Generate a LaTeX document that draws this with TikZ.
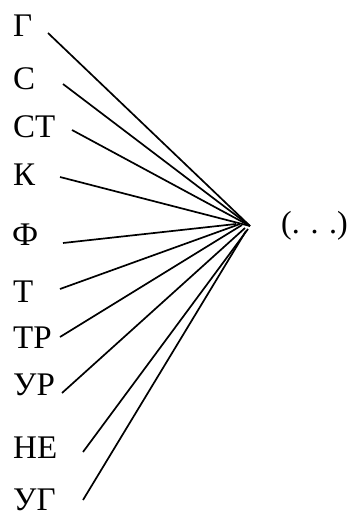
\documentclass[tikz,border=0pt]{standalone}
\usepackage{fontspec}
\setmainfont{Liberation Serif}
\usetikzlibrary{positioning}

\begin{document}
\begin{tikzpicture}[x=1pt,y=1pt,
  lbl/.style={anchor=base west,inner sep=0pt,font=\fontsize{33}{33}\selectfont},
  ray/.style={line width=1.7pt}]
\useasboundingbox (0,0) rectangle (352,-516);
% labels
\node (g) at (13,-37) [lbl] {Г};
\node (s) at (13,-90) [lbl] {С};
\node (st) at (13,-137) [lbl] {СТ};
\node (k) at (13,-185) [lbl] {К};
\node (f) at (12,-245) [lbl] {Ф};
\node (t) at (13,-302) [lbl] {Т};
\node (tr) at (13,-348) [lbl] {ТР};
\node (ur) at (13,-395) [lbl] {УР};
\node (ne) at (13,-458) [lbl] {НЕ};
\node (ug) at (13,-510) [lbl] {УГ};
\node (rest) at (281,-233) [lbl,font=\fontsize{32}{32}\selectfont] {(. . .)};
% line ends
\coordinate (hub) at (250,-226);
\coordinate (g-a) at (48,-33);
\coordinate (s-a) at (63,-84);
\coordinate (st-a) at (72,-130);
\coordinate (k-a) at (60,-177);
\coordinate (f-a) at (63,-243);
\coordinate (f-b) at (236,-224);
\coordinate (t-a) at (60,-289);
\coordinate (t-b) at (240,-224);
\coordinate (tr-a) at (60,-337);
\coordinate (tr-b) at (242,-225);
\coordinate (ur-a) at (62,-393);
\coordinate (ur-b) at (245,-228);
\coordinate (ne-a) at (83,-452);
\coordinate (ne-b) at (248,-229);
\coordinate (ug-a) at (83,-500);
\coordinate (ug-b) at (246,-231);
% rays
\draw [ray] (g-a) -- (hub);
\draw [ray] (s-a) -- (hub);
\draw [ray] (st-a) -- (hub);
\draw [ray] (k-a) -- (hub);
\draw [ray] (f-a) -- (f-b);
\draw [ray] (t-a) -- (t-b);
\draw [ray] (tr-a) -- (tr-b);
\draw [ray] (ur-a) -- (ur-b);
\draw [ray] (ne-a) -- (ne-b);
\draw [ray] (ug-a) -- (ug-b);
\end{tikzpicture}
\end{document}
